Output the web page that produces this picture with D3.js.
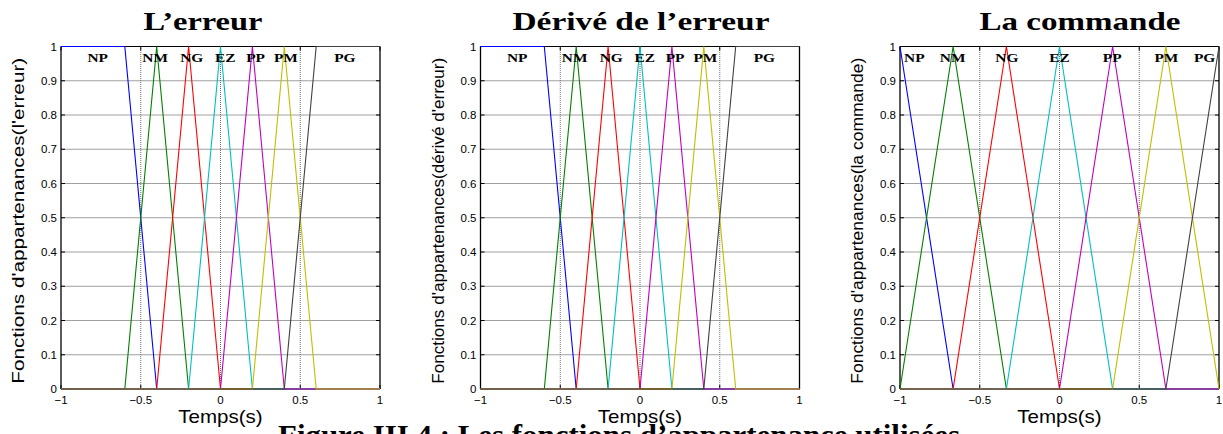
<!DOCTYPE html>
<html><head><meta charset="utf-8">
<script src="https://cdn.jsdelivr.net/npm/d3@7"></script>
<style>body{margin:0;background:#fff;overflow:hidden}svg{display:block}</style>
</head><body>
<svg id="c" width="1223" height="434"></svg>
<script>
// ---- data ----
const titles = ["L\u2019erreur", "D\u00e9riv\u00e9 de l\u2019erreur", "La commande"];
const yLabels = ["Fonctions d'appartenances(l'erreur)", "Fonctions d'appartenances(d\u00e9riv\u00e9 d'erreur)", "Fonctions d'appartenances(la commande)"];
const setNames = ["NP", "NM", "NG", "EZ", "PP", "PM", "PG"];
const xTicks = [-1, -0.5, 0, 0.5, 1];
const yTicks = [0, 0.1, 0.2, 0.3, 0.4, 0.5, 0.6, 0.7, 0.8, 0.9, 1];
// breakpoints [x, mu] for each set: error / derivative inputs
const inputSets = [
  [[-1,1],[-0.6,1],[-0.4,0],[1,0]],
  [[-1,0],[-0.6,0],[-0.4,1],[-0.2,0],[1,0]],
  [[-1,0],[-0.4,0],[-0.2,1],[0,0],[1,0]],
  [[-1,0],[-0.2,0],[0,1],[0.2,0],[1,0]],
  [[-1,0],[0,0],[0.2,1],[0.4,0],[1,0]],
  [[-1,0],[0.2,0],[0.4,1],[0.6,0],[1,0]],
  [[-1,0],[0.4,0],[0.6,1],[1,1]]
];
// output (command)
const outputSets = [
  [[-1,1],[-0.667,0],[1,0]],
  [[-1,0],[-0.667,1],[-0.333,0],[1,0]],
  [[-1,0],[-0.667,0],[-0.333,1],[0,0],[1,0]],
  [[-1,0],[-0.333,0],[0,1],[0.333,0],[1,0]],
  [[-1,0],[0,0],[0.333,1],[0.667,0],[1,0]],
  [[-1,0],[0.333,0],[0.667,1],[1,0]],
  [[-1,0],[0.667,0],[1,1]]
];
const inputLabelX = [-0.77, -0.41, -0.18, 0.03, 0.22, 0.41, 0.78];
const outputLabelX = [-0.91, -0.67, -0.33, 0.0, 0.33, 0.67, 0.91];
const caption = "Figure III.4 : Les fonctions d\u2019appartenance utilis\u00e9es";

// ---- styles ----
const colors = ["#0000ff", "#008000", "#ff0000", "#00bfbf", "#bf00bf", "#bfbf00", "#404040"];
const titleLen = [119, 257, 201];
const titleCx = [203, 641, 1080];
const panels = [
  {left: 61, sets: inputSets, lx: inputLabelX},
  {left: 480.5, sets: inputSets, lx: inputLabelX},
  {left: 900, sets: outputSets, lx: outputLabelX}
];
const W = 319, TOP = 46.5, BOT = 389;
const SANS = "Liberation Sans, Arial, sans-serif";
const SERIF = "Liberation Serif, Times New Roman, serif";

const svg = d3.select("#c");

panels.forEach((p, i) => {
  const x = d3.scaleLinear().domain([-1, 1]).range([p.left, p.left + W]);
  const y = d3.scaleLinear().domain([0, 1]).range([BOT, TOP]);
  const g = svg.append("g");

  // horizontal grid
  g.selectAll(".hg").data(yTicks.filter(v => v > 0 && v < 1)).join("line")
    .attr("x1", x(-1)).attr("x2", x(1)).attr("y1", d => y(d)).attr("y2", d => y(d))
    .attr("stroke", "#a0a0a0").attr("stroke-width", 1);
  // vertical dotted grid
  g.selectAll(".vg").data(xTicks.filter(v => v > -1 && v < 1)).join("line")
    .attr("x1", d => x(d)).attr("x2", d => x(d)).attr("y1", y(0)).attr("y2", y(1))
    .attr("stroke", "#707070").attr("stroke-width", 1).attr("stroke-dasharray", "1,1");

  // box (top, left, right)
  g.append("line").attr("x1", x(-1)).attr("x2", x(1)).attr("y1", y(1)).attr("y2", y(1)).attr("stroke", "#000");
  g.append("line").attr("x1", x(-1)).attr("x2", x(-1)).attr("y1", y(0)).attr("y2", y(1)).attr("stroke", "#000").attr("stroke-width", 1.3);
  g.append("line").attr("x1", x(1)).attr("x2", x(1)).attr("y1", y(0)).attr("y2", y(1)).attr("stroke", "#000").attr("stroke-width", 1.3);

  // tick marks (inward, both sides)
  yTicks.forEach(v => {
    g.append("line").attr("x1", x(-1)).attr("x2", x(-1) + 4).attr("y1", y(v)).attr("y2", y(v)).attr("stroke", "#000");
    g.append("line").attr("x1", x(1)).attr("x2", x(1) - 4).attr("y1", y(v)).attr("y2", y(v)).attr("stroke", "#000");
  });
  xTicks.forEach(v => {
    g.append("line").attr("x1", x(v)).attr("x2", x(v)).attr("y1", y(0)).attr("y2", y(0) - 4).attr("stroke", "#000");
    g.append("line").attr("x1", x(v)).attr("x2", x(v)).attr("y1", y(1)).attr("y2", y(1) + 4).attr("stroke", "#000");
  });

  // membership functions
  const line = d3.line().x(d => x(d[0])).y(d => y(d[1]));
  g.selectAll(".mf").data(p.sets).join("path")
    .attr("d", line).attr("fill", "none")
    .attr("stroke", (d, k) => colors[k]).attr("stroke-width", 1.1);

  // set labels (slightly stretched horizontally like the reference)
  g.selectAll(".sl").data(setNames).join("text")
    .attr("transform", (d, k) => `translate(${x(p.lx[k])},62) scale(1.14,1)`)
    .attr("text-anchor", "middle")
    .attr("font-family", SERIF)
    .attr("font-weight", "bold").attr("font-size", 13.5)
    .text(d => d);

  // tick labels
  g.selectAll(".yl").data(yTicks).join("text")
    .attr("x", x(-1) - 4).attr("y", d => y(d) + 4)
    .attr("text-anchor", "end")
    .attr("font-family", SANS).attr("font-size", 11.5)
    .text(d => d3.format("~g")(d));
  g.selectAll(".xl").data(xTicks).join("text")
    .attr("x", d => x(d)).attr("y", 404)
    .attr("text-anchor", "middle")
    .attr("font-family", SANS).attr("font-size", 11.5)
    .text(d => d3.format("~g")(d));

  // axis labels
  g.append("text").attr("transform", `translate(${x(0)},423) scale(1.14,1)`)
    .attr("text-anchor", "middle")
    .attr("font-family", SANS).attr("font-size", 18)
    .text("Temps(s)");
  g.append("text")
    .attr("transform", `translate(${x(-1) - 37},${(y(0) + y(1)) / 2 + 3}) rotate(-90)`)
    .attr("text-anchor", "middle")
    .attr("font-family", SANS).attr("font-size", 16)
    .attr("textLength", 326).attr("lengthAdjust", "spacingAndGlyphs")
    .text(yLabels[i]);

  // title
  g.append("text").attr("x", titleCx[i]).attr("y", 30)
    .attr("text-anchor", "middle")
    .attr("font-family", SERIF)
    .attr("font-weight", "bold").attr("font-size", 26)
    .attr("textLength", titleLen[i]).attr("lengthAdjust", "spacingAndGlyphs")
    .text(titles[i]);
});

// caption (clipped at the bottom edge, as in the reference)
svg.append("text").attr("x", 278).attr("y", 445)
  .attr("font-family", SERIF)
  .attr("font-weight", "bold").attr("font-size", 30)
  .attr("textLength", 682).attr("lengthAdjust", "spacingAndGlyphs")
  .text(caption);
</script>
</body></html>
